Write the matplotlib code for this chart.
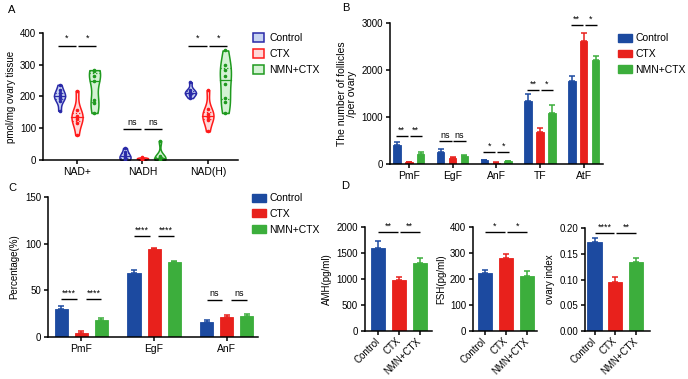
import numpy as np
import matplotlib
matplotlib.use("Agg")
import matplotlib.pyplot as plt
from matplotlib.patches import Patch

plt.rcParams["font.family"] = ["Liberation Sans", "DejaVu Sans"]
plt.rcParams["font.size"] = 7
plt.rcParams["axes.linewidth"] = 1.1
plt.rcParams["xtick.major.width"] = 1.1
plt.rcParams["ytick.major.width"] = 1.1
plt.rcParams["xtick.major.size"] = 3
plt.rcParams["ytick.major.size"] = 3

# ── data ─────────────────────────────────────────────────────────────
GROUPS = ["Control", "CTX", "NMN+CTX"]

# A: individual values per violin (pmol/mg ovary tissue)
A_CATS = ["NAD+", "NADH", "NAD(H)"]
A_CTRL = [[155, 185, 195, 200, 203, 210, 220, 237],
          [0, 3, 8, 12, 18, 25, 38],
          [195, 205, 210, 212, 215, 222, 245]]
A_CTX = [[78, 118, 130, 136, 140, 158, 218],
         [0, 2, 4, 5, 6, 8],
         [90, 125, 135, 140, 145, 160, 220]]
A_NMN = [[148, 178, 190, 250, 265, 280, 283],
         [0, 2, 5, 8, 12, 60],
         [148, 182, 195, 240, 265, 285, 300, 345]]
A_SIG = [("*", "*"), ("ns", "ns"), ("*", "*")]
A_SIG_Y = [360, 97, 360]

# B: number of follicles per ovary
B_CATS = ["PmF", "EgF", "AnF", "TF", "AtF"]
B_CTRL = [400, 250, 80, 1340, 1760]
B_CTRL_SEM = [65, 75, 15, 145, 105]
B_CTX = [40, 130, 25, 680, 2610]
B_CTX_SEM = [12, 15, 8, 85, 170]
B_NMN = [215, 160, 55, 1090, 2220]
B_NMN_SEM = [30, 25, 10, 155, 70]
B_SIG = [("**", "**"), ("ns", "ns"), ("*", "*"), ("**", "*"), ("**", "*")]
B_SIG_Y = [600, 490, 260, 1575, 2960]

# C: percentage of follicles
C_CATS = ["PmF", "EgF", "AnF"]
C_CTRL = [30, 69, 16.5]
C_CTRL_SEM = [2.8, 2.7, 1.7]
C_CTX = [4.5, 94, 21]
C_CTX_SEM = [2.3, 1.4, 2.5]
C_NMN = [18.5, 80.3, 22.7]
C_NMN_SEM = [1.4, 0.8, 2.2]
C_SIG = [("****", "****"), ("****", "****"), ("ns", "ns")]
C_SIG_Y = [41, 108, 40]

# D: hormones and ovary index
AMH = [1600, 990, 1310]
AMH_SEM = [135, 50, 95]
FSH = [224, 279, 212]
FSH_SEM = [12, 19, 19]
OVARY = [0.173, 0.0955, 0.1335]
OVARY_SEM = [0.0075, 0.0085, 0.008]

BAR_COLORS = ["#1c4aa0", "#e8211c", "#3cae3c"]
VIO_EDGE = ["#2a2aa8", "#ff1a1a", "#1f9a1f"]
VIO_FILL = ["#c8d4f2", "#ffd8d8", "#d4f2d4"]

W, H = 688, 379
fig = plt.figure(figsize=(W / 100, H / 100), dpi=100)


def px_axes(l, t, r, b):
    return fig.add_axes([l / W, 1 - b / H, (r - l) / W, (b - t) / H])


def style(ax):
    for s in ("top", "right"):
        ax.spines[s].set_visible(False)
    ax.tick_params(labelsize=7, pad=2)


def sig(ax, x1, x2, y, txt, dy):
    ax.plot([x1, x2], [y, y], color="black", lw=1.0, solid_capstyle="butt")
    ax.text((x1 + x2) / 2, y + dy, txt, ha="center", va="bottom", fontsize=6.5)


def bars(ax, x, vals, sems, color, width):
    ax.bar(x, vals, width=width, color=color, edgecolor=color, lw=0.6, zorder=2)
    ax.errorbar(x, vals, yerr=[np.zeros(len(vals)), sems], fmt="none",
                ecolor=color, elinewidth=1.1, capsize=2.5, capthick=1.1, zorder=1)


def violin(ax, data, pos, edge, fill, width):
    parts = ax.violinplot([data], positions=[pos], widths=width,
                          showextrema=False, bw_method=0.55)
    body = parts["bodies"][0]
    body.set_facecolor(fill)
    body.set_edgecolor(edge)
    body.set_alpha(1)
    body.set_linewidth(1.1)
    verts = body.get_paths()[0].vertices
    right = verts[verts[:, 0] > pos]
    order = np.argsort(right[:, 1])
    ys, xs = right[order, 1], right[order, 0] - pos
    q1, med, q3 = np.percentile(data, [25, 50, 75])
    for q, ls in ((q1, ":"), (med, "-"), (q3, ":")):
        hw = np.interp(q, ys, xs)
        ax.plot([pos - hw, pos + hw], [q, q], color=edge, ls=ls, lw=0.9)
    ax.scatter([pos] * len(data), data, s=2.5, color=edge, zorder=3)


# ── A ────────────────────────────────────────────────────────────────
axA = px_axes(43, 33, 238, 160)
style(axA)
off = 0.267
for i in range(3):
    for j, grp in enumerate((A_CTRL, A_CTX, A_NMN)):
        violin(axA, grp[i], i + (j - 1) * off, VIO_EDGE[j], VIO_FILL[j], 0.17)
    s1, s2 = A_SIG[i]
    sig(axA, i - off - 0.03, i - 0.02, A_SIG_Y[i], s1, 8)
    sig(axA, i + 0.02, i + off + 0.03, A_SIG_Y[i], s2, 8)
axA.set_xlim(-0.52, 2.46)
axA.set_ylim(0, 400)
axA.set_yticks([0, 100, 200, 300, 400])
axA.set_xticks(range(3))
axA.set_xticklabels(A_CATS, fontsize=7.5)
axA.set_ylabel("pmol/mg ovary tissue", fontsize=7, labelpad=3)
handles = [Patch(facecolor=VIO_FILL[k], edgecolor=VIO_EDGE[k], lw=1.1, label=GROUPS[k])
           for k in range(3)]
fig.legend(handles=handles, loc="upper left", bbox_to_anchor=(244 / W, 1 - 24 / H),
           frameon=False, fontsize=7.5, handlelength=1.0, handleheight=0.9,
           handletextpad=0.5, labelspacing=0.55)

# ── B ────────────────────────────────────────────────────────────────
axB = px_axes(390, 23, 603, 164)
style(axB)
xb = np.arange(len(B_CATS))
bw, bo = 0.17, 0.27
bars(axB, xb - bo, B_CTRL, B_CTRL_SEM, BAR_COLORS[0], bw)
bars(axB, xb, B_CTX, B_CTX_SEM, BAR_COLORS[1], bw)
bars(axB, xb + bo, B_NMN, B_NMN_SEM, BAR_COLORS[2], bw)
for i in range(len(B_CATS)):
    s1, s2 = B_SIG[i]
    sig(axB, i - bo - 0.03, i - 0.02, B_SIG_Y[i], s1, 30)
    sig(axB, i + 0.02, i + bo + 0.03, B_SIG_Y[i], s2, 30)
axB.set_xlim(-0.43, 4.44)
axB.set_ylim(0, 3000)
axB.set_yticks([0, 1000, 2000, 3000])
axB.set_xticks(xb)
axB.set_xticklabels(B_CATS, fontsize=7.5)
axB.set_ylabel("The number of follicles\n/per ovary", fontsize=7.5, labelpad=3,
               linespacing=1.0)
handles = [Patch(facecolor=c, edgecolor=c, label=g) for c, g in zip(BAR_COLORS, GROUPS)]
fig.legend(handles=handles, loc="upper left", bbox_to_anchor=(609 / W, 1 - 24 / H),
           frameon=False, fontsize=7.5, handlelength=1.3, handleheight=0.8,
           handletextpad=0.3, labelspacing=0.55)

# ── C ────────────────────────────────────────────────────────────────
axC = px_axes(48, 197, 258, 337)
style(axC)
xc = np.arange(len(C_CATS))
cw, co = 0.18, 0.276
bars(axC, xc - co, C_CTRL, C_CTRL_SEM, BAR_COLORS[0], cw)
bars(axC, xc, C_CTX, C_CTX_SEM, BAR_COLORS[1], cw)
bars(axC, xc + co, C_NMN, C_NMN_SEM, BAR_COLORS[2], cw)
for i in range(len(C_CATS)):
    s1, s2 = C_SIG[i]
    sig(axC, i - co, i - 0.06, C_SIG_Y[i], s1, 1.5)
    sig(axC, i + 0.06, i + co, C_SIG_Y[i], s2, 1.5)
axC.set_xlim(-0.46, 2.43)
axC.set_ylim(0, 150)
axC.set_yticks([0, 50, 100, 150])
axC.set_xticks(xc)
axC.set_xticklabels(C_CATS, fontsize=7.5)
axC.set_ylabel("Percentage(%)", fontsize=7, labelpad=4)
fig.legend(handles=handles, loc="upper left", bbox_to_anchor=(243 / W, 1 - 184 / H),
           frameon=False, fontsize=7.5, handlelength=1.3, handleheight=0.8,
           handletextpad=0.3, labelspacing=0.55)

# ── D ────────────────────────────────────────────────────────────────
d_specs = [
    ((365, 227, 432, 331), AMH, AMH_SEM, (0, 2000), [0, 500, 1000, 1500, 2000],
     "AMH(pg/ml)", ("**", "**"), 1900, (-0.63, 2.6), "{:.0f}"),
    ((473, 227, 537, 331), FSH, FSH_SEM, (0, 400), [0, 100, 200, 300, 400],
     "FSH(pg/ml)", ("*", "*"), 380, (-0.56, 2.46), "{:.0f}"),
    ((585, 228, 650, 331), OVARY, OVARY_SEM, (0, 0.2), [0, 0.05, 0.1, 0.15, 0.2],
     "ovary index", ("****", "**"), 0.19, (-0.46, 2.68), "{:.2f}"),
]
for box, vals, sems, ylim, yt, lab, sg, sy, xl, fmt in d_specs:
    ax = px_axes(*box)
    style(ax)
    xd = np.arange(3)
    for k in range(3):
        bars(ax, [xd[k]], [vals[k]], [sems[k]], BAR_COLORS[k], 0.68)
    dy = (ylim[1] - ylim[0]) * 0.015
    sig(ax, 0.0, 0.95, sy, sg[0], dy)
    sig(ax, 1.05, 2.0, sy, sg[1], dy)
    ax.set_xlim(*xl)
    ax.set_ylim(*ylim)
    ax.set_yticks(yt)
    ax.set_yticklabels([fmt.format(v) for v in yt])
    ax.set_xticks(xd)
    ax.set_xticklabels(GROUPS, rotation=45, ha="right", va="center",
                       rotation_mode="anchor", fontsize=7)
    ax.tick_params(axis="x", pad=3)
    ax.set_ylabel(lab, fontsize=7, labelpad=3)

# panel letters
for letter, x, y in (("A", 8, 10), ("B", 342, 8), ("C", 8, 188), ("D", 341, 186)):
    fig.text(x / W, 1 - y / H, letter, fontsize=8, ha="left", va="center")

fig.savefig("out.png", dpi=100)
